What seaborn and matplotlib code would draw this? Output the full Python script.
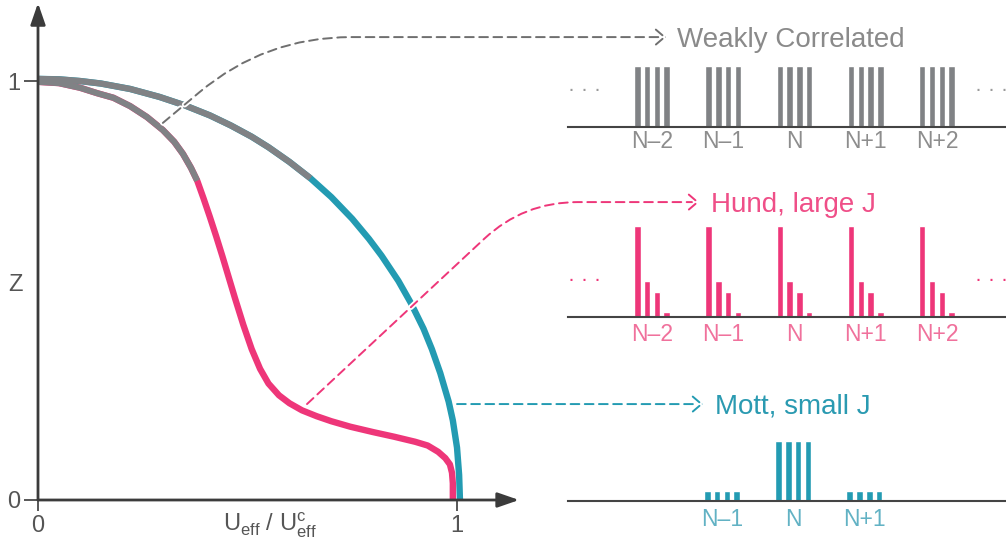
# Z vs U_eff/U^c_eff schematic with three charge-histogram insets

import numpy as np
import pandas as pd
import matplotlib.pyplot as plt
import matplotlib.patheffects as pe
import seaborn as sns

# ---- curves (x = U_eff / U^c_eff, y = Z) ----
mott_x = [0, 0.05, 0.10, 0.15, 0.22, 0.29, 0.35, 0.41, 0.46, 0.51, 0.55, 0.60, 0.65,
          0.70, 0.75, 0.79, 0.82, 0.86, 0.89, 0.92, 0.94, 0.96, 0.98, 0.99, 1.0, 1.005, 1.007]
mott_z = [1.005, 1.004, 1.0, 0.994, 0.981, 0.962, 0.942, 0.918, 0.894, 0.867, 0.842, 0.807, 0.768,
          0.723, 0.671, 0.623, 0.583, 0.523, 0.470, 0.409, 0.360, 0.303, 0.235, 0.19, 0.125, 0.06, 0.0]

hund_x = [0, 0.05, 0.10, 0.141, 0.18, 0.22, 0.26, 0.298, 0.325, 0.346, 0.365, 0.38,
          0.395, 0.41, 0.425, 0.44, 0.455, 0.47, 0.49, 0.51, 0.53, 0.55, 0.575, 0.60, 0.63,
          0.665, 0.70, 0.745, 0.80, 0.85, 0.90, 0.93, 0.955, 0.972, 0.983, 0.988, 0.99, 0.99]
hund_z = [0.998, 0.995, 0.984, 0.971, 0.960, 0.940, 0.914, 0.883, 0.855, 0.826, 0.793, 0.762,
          0.720, 0.676, 0.630, 0.582, 0.532, 0.482, 0.418, 0.36, 0.313, 0.278, 0.250, 0.231, 0.214,
          0.200, 0.188, 0.175, 0.162, 0.151, 0.139, 0.13, 0.115, 0.1, 0.085, 0.065, 0.04, 0.0]

weak_end_mott = 0.65   # grey (weakly correlated) part of each curve ends here
weak_end_hund = 0.38

# ---- inset histograms ----
groups5 = ['N–2', 'N–1', 'N', 'N+1', 'N+2']
groups3 = ['N–1', 'N', 'N+1']
weak_w = [0.67, 0.67, 0.67, 0.67]
hund_w = [1.0, 0.40, 0.27, 0.055]
mott_w = {'N–1': [0.11] * 4, 'N': [0.66] * 4, 'N+1': [0.11] * 4}

GREY = '#808285'
PINK = '#ee3679'
TEAL = '#239bb2'
AXIS = '#3b3b3b'

sns.set_style('white')
plt.rcParams['font.family'] = ['Liberation Sans', 'DejaVu Sans']
plt.rcParams['mathtext.fontset'] = 'custom'
plt.rcParams['mathtext.rm'] = 'Liberation Sans'

W, H = 1006, 548
fig = plt.figure(figsize=(W / 100, H / 100), dpi=100)


def px_rect(x0, y_top, x1, y_bot):
    return [x0 / W, 1 - y_bot / H, (x1 - x0) / W, (y_bot - y_top) / H]


# ---- main panel ----
ax = fig.add_axes(px_rect(38, 1.4, 520, 500))
mott = pd.DataFrame({'u': mott_x, 'z': mott_z})
hund = pd.DataFrame({'u': hund_x, 'z': hund_z})
line_kw = dict(x='u', y='z', sort=False, estimator=None, ax=ax, clip_on=False,
               solid_capstyle='butt', solid_joinstyle='round')
sns.lineplot(data=mott, color=TEAL, lw=4.6, **line_kw)
sns.lineplot(data=hund, color=PINK, lw=4.6, **line_kw)
sns.lineplot(data=mott[mott.u <= weak_end_mott], color=GREY, lw=4.45, **line_kw)
sns.lineplot(data=hund[hund.u <= weak_end_hund], color=GREY, lw=4.45, **line_kw)

ax.set_xlim(0, 1.1503)
ax.set_ylim(0, 1.19)
sns.despine(ax=ax, left=True, bottom=True)
ax_arrow = dict(arrowstyle='-|>,head_length=1.3,head_width=0.45', color=AXIS, lw=2,
                shrinkA=0, shrinkB=0, mutation_scale=10)
ax.annotate('', xy=(1.148, 0), xytext=(0, 0), arrowprops=ax_arrow, annotation_clip=False)
ax.annotate('', xy=(0, 1.186), xytext=(0, 0), arrowprops=ax_arrow, annotation_clip=False)

ax.set_xticks([0, 1])
ax.set_yticks([0, 1])
ax.tick_params(axis='x', length=8, width=1.2, color=AXIS, labelsize=17,
               labelcolor='#555555', pad=3, bottom=True)
ax.tick_params(axis='y', length=10, width=1.2, color=AXIS, labelsize=17,
               labelcolor='#555555', pad=3, left=True)
ax.set_xlabel(r'U$_{\rm eff}$ / U$^{\rm c}_{\rm eff}$', fontsize=17, color='#555555', va='center')
ax.xaxis.set_label_coords(0.481, -0.05)
ax.set_ylabel('Z', fontsize=17, color='#555555', rotation=0, va='center', ha='center')
ax.yaxis.set_label_coords(-0.046, 0.431)


# ---- insets ----
def inset(y_base, df, cats, color, lab_color, xlim, pad):
    a = fig.add_axes(px_rect(568, y_base - 100, 1006, y_base))
    sns.barplot(data=df, x='n', y='w', hue='k', order=cats, palette=[color] * 4,
                width=0.55, gap=0.34, saturation=1, errorbar=None, legend=False, ax=a)
    a.set_xlim(*xlim)
    a.set_ylim(0, 1.1)
    a.set_facecolor('none')
    a.set_xlabel('')
    a.set_ylabel('')
    a.set_yticks([])
    for s in ['top', 'left', 'right']:
        a.spines[s].set_visible(False)
    a.spines['bottom'].set_color('#444444')
    a.spines['bottom'].set_linewidth(1.5)
    a.tick_params(axis='x', length=0, labelsize=16.5, labelcolor=lab_color, pad=pad)
    return a


def long_df(cats, weights):
    rows = [(c, k, w) for c in cats for k, w in enumerate(weights[c])]
    return pd.DataFrame(rows, columns=['n', 'k', 'w'])


ax_w = inset(127, long_df(groups5, {c: weak_w for c in groups5}), groups5,
             GREY, '#8d8d8d', (-1.18, 4.97), 2.5)
ax_h = inset(317, long_df(groups5, {c: hund_w for c in groups5}), groups5,
             PINK, '#f0719c', (-1.18, 4.97), 4.5)
ax_m = inset(501, long_df(groups3, mott_w), groups3,
             TEAL, '#62b2c4', (-2.163, 3.989), 5)

for a, c in [(ax_w, '#9a9a9a'), (ax_h, PINK)]:
    a.text(-0.955, 0.396, '· · ·', color=c, fontsize=15.5, ha='center', va='center')
    a.text(4.76, 0.396, '· · ·', color=c, fontsize=15.5, ha='center', va='center')

ax_w.text(0.351, 0.879, 'Weakly Correlated', color='#8a8a8a', fontsize=20, ha='left', va='baseline')
ax_h.text(0.829, 1.154, 'Hund, large J', color='#ef4f88', fontsize=20, ha='left', va='baseline')
ax_m.text(-0.098, 0.967, 'Mott, small J', color='#2a9ab1', fontsize=20, ha='left', va='baseline')


def link(a, tip, start, color, conn):
    a.annotate('', xy=tip, xytext=start, textcoords=ax.transData, annotation_clip=False,
               arrowprops=dict(arrowstyle='->,head_length=0.35,head_width=0.3',
                               mutation_scale=18, color=color, lw=1.4,
                               linestyle=(0, (4.5, 2.8)), shrinkA=0, shrinkB=0,
                               connectionstyle=conn,
                               path_effects=[pe.withStroke(linewidth=4, foreground='white')]))


link(ax_w, (0.197, 0.989), (0.298, 0.90), '#6f6f6f', 'angle,angleA=40,angleB=0,rad=86')
link(ax_h, (0.66, 1.264), (0.642, 0.229), PINK, 'angle,angleA=43,angleB=0,rad=54')
link(ax_m, (-0.267, 1.066), (1.0, 0.229), TEAL, 'arc3')

fig.savefig('out.png', dpi=100)
